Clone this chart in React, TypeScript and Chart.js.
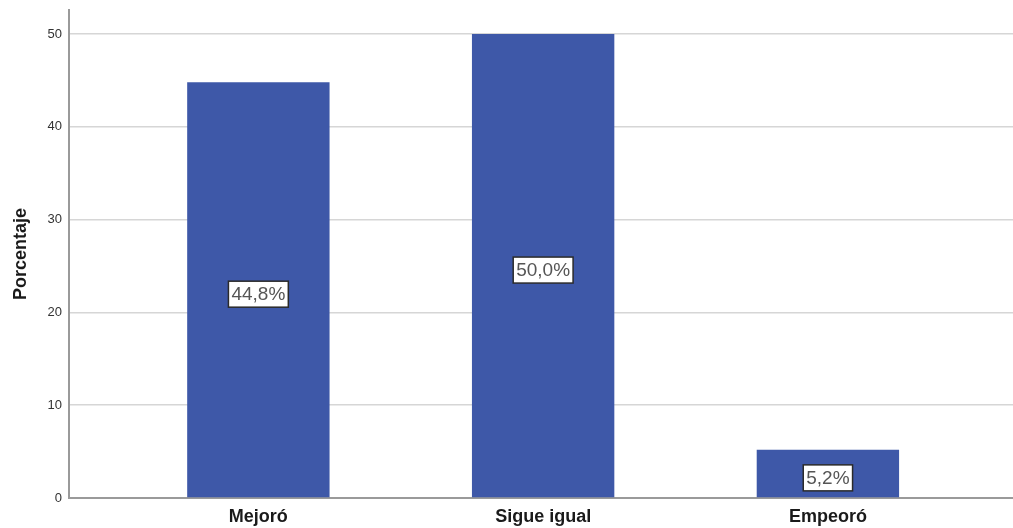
import React, { useEffect, useRef } from "react";
import { Chart, registerables } from "chart.js";

Chart.register(...registerables);

const categories = ["Mejoró", "Sigue igual", "Empeoró"];
const percentages = [44.8, 50.0, 5.2];
const valueLabels = ["44,8%", "50,0%", "5,2%"];
const yTicks = [0, 10, 20, 30, 40, 50];
const yAxisTitle = "Porcentaje";

const labelPlugin = {
  id: "boxLabels",
  afterDatasetsDraw(chart: any) {
    const ctx = chart.ctx;
    const meta = chart.getDatasetMeta(0);
    const yScale = chart.scales.y;
    ctx.save();
    ctx.font = "19px 'Liberation Sans', Arial, sans-serif";
    ctx.textAlign = "center";
    ctx.textBaseline = "middle";
    meta.data.forEach((bar: any, i: number) => {
      const text = valueLabels[i];
      const cx = bar.x;
      const cy = yScale.getPixelForValue(percentages[i] / 2) + 4;
      const w = ctx.measureText(text).width + 6;
      const h = 26;
      ctx.fillStyle = "#ffffff";
      ctx.fillRect(cx - w / 2, cy - h / 2, w, h);
      ctx.strokeStyle = "#2a2a2a";
      ctx.lineWidth = 1.5;
      ctx.strokeRect(cx - w / 2, cy - h / 2, w, h);
      ctx.fillStyle = "#555555";
      ctx.fillText(text, cx, cy + 1);
    });
    ctx.restore();
  },
};

export default function App() {
  const ref = useRef<HTMLCanvasElement>(null);
  useEffect(() => {
    document.body.style.margin = "0";
    const chart = new Chart(ref.current!, {
      type: "bar",
      data: {
        datasets: [
          {
            data: percentages.map((v, i) => ({ x: i, y: v })),
            backgroundColor: "#3E58A8",
            borderWidth: 0,
            barPercentage: 0.5,
            categoryPercentage: 1,
          },
        ],
      },
      options: {
        animation: false,
        responsive: false,
        layout: { padding: { top: 10, right: 0, left: 0, bottom: 0 } },
        plugins: { legend: { display: false }, tooltip: { enabled: false } },
        scales: {
          x: {
            type: "linear",
            offset: false,
            min: -0.665,
            max: 2.65,
            afterBuildTicks: (axis: any) => {
              axis.ticks = categories.map((_, i) => ({ value: i }));
            },
            afterFit: (axis: any) => {
              axis.height = 30;
              axis.paddingLeft = 0;
              axis.paddingRight = 0;
            },
            grid: { display: false, drawTicks: false, offset: false },
            border: { color: "#9a9a9a", width: 2 },
            ticks: {
              padding: 8,
              maxRotation: 0,
              autoSkip: false,
              color: "#1a1a1a",
              font: { family: "'Liberation Sans', Arial, sans-serif", size: 18, weight: "bold" },
              callback: (v: any) => categories[v] ?? "",
            },
          },
          y: {
            min: 0,
            max: 52.6,
            afterBuildTicks: (axis: any) => {
              axis.ticks = yTicks.map((v) => ({ value: v }));
            },
            afterFit: (axis: any) => {
              axis.width = 69;
              axis.paddingTop = 0;
              axis.paddingBottom = 0;
            },
            grid: { color: "#d6d6d6", lineWidth: 1.5, drawTicks: false },
            border: { color: "#9a9a9a", width: 2 },
            ticks: {
              padding: 7,
              color: "#333333",
              font: { family: "'Liberation Sans', Arial, sans-serif", size: 13 },
            },
            title: {
              display: true,
              text: yAxisTitle,
              color: "#1a1a1a",
              padding: { top: 10, bottom: 6 },
              font: { family: "'Liberation Sans', Arial, sans-serif", size: 18, weight: "bold" },
            },
          },
        },
      },
      plugins: [labelPlugin],
    } as any);
    return () => chart.destroy();
  }, []);
  return <canvas ref={ref} width={1013} height={528} style={{ display: "block" }} />;
}
